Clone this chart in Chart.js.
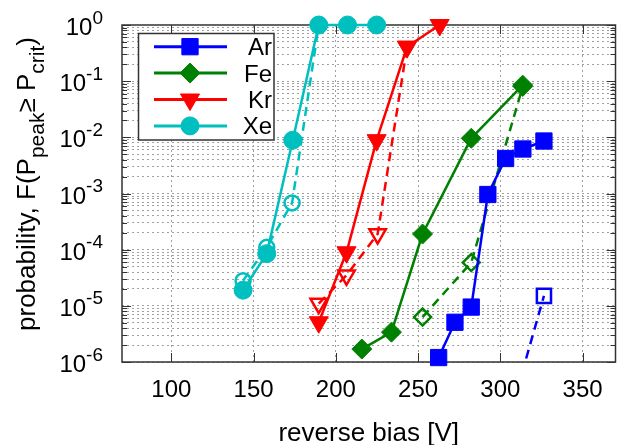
<!DOCTYPE html>
<html>
<head>
<meta charset="utf-8">
<script src="https://cdn.jsdelivr.net/npm/chart.js@4/dist/chart.umd.min.js"></script>
<style>
  html, body { margin: 0; padding: 0; background: #fff; }
  canvas { display: block; }
</style>
</head>
<body>
<canvas id="chart" width="628" height="445"></canvas>
<script>
// values (reverse bias in V, probability)
const arBias = [262.5, 272.4, 282.3, 292.4, 303.2, 313.7, 326.5]
const arProb = [1.2e-6, 5.1e-6, 9.5e-6, 9.6e-4, 4.2e-3, 6.2e-3, 8.6e-3]
const arBiasOpen = [303.2, 326.5]
const arProbOpen = [6e-8, 1.5e-5]

const feBias = [215.8, 233.8, 252.7, 282.3, 313.6]
const feProb = [1.7e-6, 3.4e-6, 1.9e-4, 9.6e-3, 8.5e-2]
const feBiasOpen = [252.7, 282.3, 313.6]
const feProbOpen = [6.3e-6, 5.9e-5, 8e-2]

const krBias = [189.6, 206.5, 224.8, 243.3, 263.1]
const krProb = [5.1e-6, 9e-5, 8.9e-3, 0.41, 1]
const krBiasOpen = [189.6, 206.5, 225.4, 243.3]
const krProbOpen = [1.1e-5, 3.5e-5, 1.9e-4, 0.41]

const xeBias = [143.6, 158, 173.8, 189.6, 207.1, 224.8]
const xeProb = [1.9e-5, 8.5e-5, 8.9e-3, 1, 1, 1]
const xeBiasOpen = [143.6, 158, 173.4, 189.6]
const xeProbOpen = [2.8e-5, 1.1e-4, 6.8e-4, 1]

const legendNames = ['Ar', 'Fe', 'Kr', 'Xe']
const xTicks = [100, 150, 200, 250, 300, 350]
const yExponents = [0, -1, -2, -3, -4, -5, -6]

const FONT = "'Liberation Sans', Arial, Helvetica, sans-serif"
const colors = { Ar: '#0000ff', Fe: '#008000', Kr: '#ff0000', Xe: '#00bfbf' }
const markers = {
  Ar: { style: 'rect', radius: 11.5, rotation: 0 },
  Fe: { style: 'rectRot', radius: 10, rotation: 0 },
  Kr: { style: 'triangle', radius: 11, rotation: 180 },
  Xe: { style: 'circle', radius: 9, rotation: 0 }
}

function pts (xs, ys) {
  return xs.map((x, i) => ({ x: x, y: ys[i] }))
}

function solidSet (name, xs, ys) {
  const m = markers[name]
  return {
    label: name,
    data: pts(xs, ys),
    borderColor: colors[name],
    backgroundColor: colors[name],
    borderWidth: 2.5,
    pointStyle: m.style,
    pointRadius: m.radius,
    pointRotation: m.rotation,
    pointBorderWidth: 1,
    pointHoverRadius: m.radius,
    clip: false
  }
}

function openSet (name, xs, ys) {
  const m = markers[name]
  return {
    label: name + ' (dashed)',
    data: pts(xs, ys),
    borderColor: colors[name],
    backgroundColor: 'rgba(0,0,0,0)',
    borderWidth: 2.5,
    borderDash: [9, 6],
    pointStyle: m.style,
    pointRadius: m.radius - 1.5,
    pointRotation: m.rotation,
    pointBorderWidth: 2.5,
    pointHoverRadius: m.radius - 1.5,
    clip: { left: 20, top: 20, right: 20, bottom: 0 }
  }
}

const datasets = [
  solidSet('Ar', arBias, arProb),
  openSet('Ar', arBiasOpen, arProbOpen),
  solidSet('Fe', feBias, feProb),
  openSet('Fe', feBiasOpen, feProbOpen),
  solidSet('Kr', krBias, krProb),
  openSet('Kr', krBiasOpen, krProbOpen),
  solidSet('Xe', xeBias, xeProb),
  openSet('Xe', xeBiasOpen, xeProbOpen)
]

// text with a raised / lowered smaller part, drawn left to right
function drawRich (ctx, parts, x, y) {
  let cx = x
  for (const p of parts) {
    ctx.font = p.size + 'px ' + FONT
    ctx.fillText(p.text, cx, y + (p.shift || 0))
    cx += ctx.measureText(p.text).width
  }
}
function richWidth (ctx, parts) {
  let w = 0
  for (const p of parts) {
    ctx.font = p.size + 'px ' + FONT
    w += ctx.measureText(p.text).width
  }
  return w
}

function drawMarker (ctx, name, x, y) {
  const m = markers[name]
  ctx.fillStyle = colors[name]
  ctx.strokeStyle = colors[name]
  ctx.lineWidth = 1
  ctx.setLineDash([])
  Chart.helpers.drawPoint(ctx, {
    pointStyle: m.style,
    radius: m.radius,
    rotation: m.rotation,
    borderWidth: 1
  }, x, y)
}

const gnuFrame = {
  id: 'gnuFrame',
  beforeDatasetsDraw (chart) {
    const ctx = chart.ctx
    const a = chart.chartArea
    const xs = chart.scales.x
    const ys = chart.scales.y
    ctx.save()
    ctx.strokeStyle = '#333'
    ctx.lineWidth = 1.5
    ctx.setLineDash([])
    ctx.strokeRect(a.left, a.top, a.right - a.left, a.bottom - a.top)
    ctx.lineWidth = 1
    ctx.beginPath()
    for (const v of xTicks) {
      const px = Math.round(xs.getPixelForValue(v)) + 0.5
      ctx.moveTo(px, a.bottom); ctx.lineTo(px, a.bottom - 9)
      ctx.moveTo(px, a.top); ctx.lineTo(px, a.top + 9)
    }
    for (const e of yExponents) {
      for (let m = 1; m <= 9; m++) {
        const v = m * Math.pow(10, e)
        if (v > 1) continue
        const py = Math.round(ys.getPixelForValue(v)) + 0.5
        const len = m === 1 ? 9 : 5
        ctx.moveTo(a.left, py); ctx.lineTo(a.left + len, py)
        ctx.moveTo(a.right, py); ctx.lineTo(a.right - len, py)
      }
    }
    ctx.stroke()
    ctx.restore()
  },
  afterDatasetsDraw (chart) {
    // key box, top left inside the plot
    const ctx = chart.ctx
    ctx.save()
    ctx.fillStyle = '#fff'
    ctx.fillRect(138.5, 33.5, 135.5, 106.5)
    ctx.strokeStyle = '#333'
    ctx.lineWidth = 1.5
    ctx.strokeRect(138.5, 33.5, 135.5, 106.5)
    legendNames.forEach((name, i) => {
      const y = 46.7 + i * 26.4
      ctx.strokeStyle = colors[name]
      ctx.lineWidth = 3
      ctx.beginPath()
      ctx.moveTo(154, y); ctx.lineTo(227, y)
      ctx.stroke()
      drawMarker(ctx, name, 190, y)
      ctx.fillStyle = '#000'
      ctx.font = '24px ' + FONT
      ctx.textAlign = 'right'
      ctx.textBaseline = 'alphabetic'
      ctx.fillText(name, 272, y + 8.5)
    })
    ctx.restore()
  },
  afterDraw (chart) {
    const ctx = chart.ctx
    const a = chart.chartArea
    const xs = chart.scales.x
    const ys = chart.scales.y
    ctx.save()
    ctx.fillStyle = '#000'
    ctx.textBaseline = 'alphabetic'

    // x tick labels
    ctx.font = '24px ' + FONT
    ctx.textAlign = 'center'
    for (const v of xTicks) {
      ctx.fillText(String(v), xs.getPixelForValue(v), 397)
    }
    // x title
    ctx.font = '26px ' + FONT
    ctx.fillText('reverse bias [V]', (a.left + a.right) / 2, 441)

    // y tick labels 10^n
    ctx.textAlign = 'left'
    for (const e of yExponents) {
      const py = ys.getPixelForValue(Math.pow(10, e))
      const parts = [
        { text: '10', size: 24 },
        { text: String(e), size: 19, shift: -11.5 }
      ]
      const w = richWidth(ctx, parts)
      drawRich(ctx, parts, 103 - w, py + 10)
    }

    // y title with subscripts
    const title = [
      { text: 'probability, F(P', size: 26 },
      { text: 'peak', size: 21, shift: 8.5 },
      { text: '\u2265 P', size: 26 },
      { text: 'crit', size: 21, shift: 8.5 },
      { text: ')', size: 26 }
    ]
    const tw = richWidth(ctx, title)
    ctx.translate(35, 184)
    ctx.rotate(-Math.PI / 2)
    drawRich(ctx, title, -tw / 2, 0)
    ctx.restore()
  }
}

const chart = new Chart(document.querySelector('#chart'), {
  type: 'line',
  data: { datasets: datasets },
  options: {
    responsive: false,
    animation: false,
    events: [],
    layout: { padding: { left: 122, top: 25, right: 4, bottom: 83 } },
    plugins: {
      legend: { display: false },
      tooltip: { enabled: false }
    },
    scales: {
      x: {
        type: 'linear',
        min: 70,
        max: 370,
        afterBuildTicks: (scale) => { scale.ticks = xTicks.map(v => ({ value: v })) },
        ticks: { display: false },
        grid: { color: '#a0a0a0', lineWidth: 1, drawTicks: false },
        border: { display: false, dash: [2, 3] }
      },
      y: {
        type: 'logarithmic',
        min: 1e-6,
        max: 1,
        afterBuildTicks: (scale) => {
          const t = []
          for (const e of yExponents) {
            for (let m = 1; m <= 9; m++) {
              const v = m * Math.pow(10, e)
              if (v < 1) t.push({ value: v })
            }
          }
          scale.ticks = t
        },
        ticks: { display: false },
        grid: { color: '#a0a0a0', lineWidth: 1, drawTicks: false },
        border: { display: false, dash: [2, 3] }
      }
    }
  },
  plugins: [gnuFrame]
})
</script>
</body>
</html>
